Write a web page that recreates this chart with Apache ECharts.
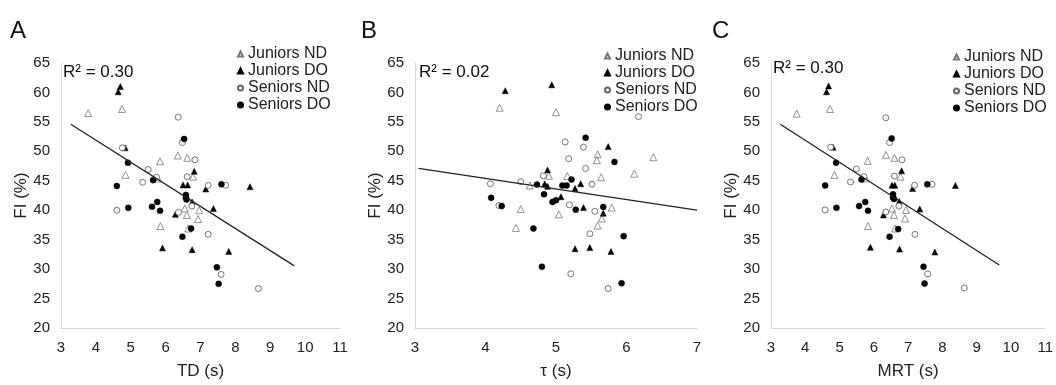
<!DOCTYPE html>
<html>
<head>
<meta charset="utf-8">
<script src="https://cdn.jsdelivr.net/npm/echarts@6/dist/echarts.min.js"></script>
<style>
  html, body { margin: 0; padding: 0; background: #fff; }
  #chart { width: 1056px; height: 385px; }
</style>
</head>
<body>
<div id="chart"></div>
<script>
// group names
var groups = ["Juniors ND", "Juniors DO", "Seniors ND", "Seniors DO"];

// panel A: TD (s) vs FI (%)
var juniorsNdA = [[3.78,56.5],[4.75,57.2],[4.85,46.0],[5.84,48.3],[6.35,49.3],[6.62,48.9],[6.79,45.7],[5.78,45.4],
  [6.55,40.3],[6.61,39.2],[6.96,40.0],[6.93,38.5],[5.85,37.3],[6.65,36.9]];
var juniorsDoA = [[4.70,61.0],[4.64,60.1],[4.84,50.6],[6.82,46.6],[6.50,44.3],[6.63,44.3],[7.15,43.6],[8.42,44.0],
  [6.76,41.4],[6.28,39.3],[7.37,40.3],[5.91,33.6],[6.76,33.3],[7.81,33.0]];
var seniorsNdA = [[6.36,55.8],[6.48,51.5],[4.76,50.6],[6.84,48.55],[5.50,46.9],[5.74,45.6],[6.62,45.7],[5.34,44.75],
  [7.22,44.2],[7.72,44.25],[4.60,40.0],[6.75,40.7],[6.37,39.65],[7.22,35.9],[7.59,29.1],[8.66,26.7]];
var seniorsDoA = [[6.53,52.1],[4.92,48.05],[5.64,45.1],[4.60,44.1],[7.60,44.4],[6.58,42.6],[6.58,42.1],[6.60,41.8],
  [5.76,41.4],[4.93,40.4],[5.61,40.6],[5.84,39.9],[6.73,36.9],[6.48,35.5],[7.47,30.3],[7.52,27.5]];
var fitA = { slope: -3.75, intercept: 66.9, from: 3.28, to: 9.68, r2: "0.30" };

// panel B: tau (s) vs FI (%)
var juniorsNdB = [[4.20,57.4],[5.00,56.65],[5.59,49.5],[5.58,48.5],[6.38,49.0],[6.11,46.2],[4.90,45.85],[5.16,45.8],
  [5.64,45.6],[4.63,44.2],[4.50,40.2],[4.43,37.0],[5.04,39.3],[5.79,40.45],[5.65,38.6],[5.59,37.4]];
var juniorsDoB = [[4.28,60.3],[4.94,61.3],[5.74,50.8],[4.88,46.85],[5.35,44.5],[4.84,44.5],[4.88,44.05],[5.27,43.7],
  [5.07,42.3],[5.39,40.45],[5.67,39.5],[5.27,33.45],[5.48,33.65],[5.78,33.0]];
var seniorsNdB = [[6.17,55.9],[5.13,51.6],[5.39,50.7],[5.18,48.75],[5.42,47.1],[4.82,45.85],[4.07,44.5],[4.50,44.85],
  [5.51,44.4],[4.19,40.8],[5.19,40.9],[5.55,39.8],[5.48,36.0],[5.21,29.2],[5.74,26.7]];
var seniorsDoB = [[5.42,52.3],[5.83,48.2],[5.22,45.2],[4.73,44.35],[5.09,44.2],[5.15,44.2],[4.08,42.1],[4.83,42.7],
  [4.95,41.4],[5.00,41.7],[4.23,40.7],[4.68,36.9],[5.28,40.1],[5.67,40.55],[5.96,35.6],[4.80,30.4],[5.93,27.6]];
var fitB = { slope: -1.8, intercept: 52.6, from: 3.05, to: 7.0, r2: "0.02" };

// panel C: MRT (s) vs FI (%)
var juniorsNdC = [[3.75,56.4],[4.72,57.2],[4.85,46.0],[5.82,48.4],[6.35,49.4],[6.60,48.9],[6.78,45.7],[5.76,45.4],
  [6.53,40.3],[6.59,39.2],[6.94,40.05],[6.91,38.6],[5.83,37.3],[6.62,36.9]];
var juniorsDoC = [[4.68,61.1],[4.62,60.1],[4.81,50.7],[6.81,46.7],[6.53,44.25],[6.61,44.25],[7.13,43.7],[8.38,44.2],
  [6.74,41.5],[6.28,39.2],[7.34,40.2],[5.90,33.7],[6.75,33.4],[7.78,32.9]];
var seniorsNdC = [[6.35,55.7],[6.46,51.5],[4.74,50.7],[6.82,48.55],[5.49,47.0],[5.71,45.7],[6.60,45.8],[5.32,44.8],
  [7.19,44.25],[7.70,44.4],[4.58,40.05],[6.73,40.7],[6.35,39.7],[7.20,35.9],[7.57,29.2],[8.64,26.8]];
var seniorsDoC = [[6.52,52.2],[4.90,48.05],[5.64,45.2],[4.58,44.2],[7.56,44.4],[6.56,42.7],[6.56,42.1],[6.59,41.9],
  [5.75,41.4],[4.91,40.4],[5.57,40.7],[5.83,39.9],[6.71,36.8],[6.46,35.5],[7.45,30.4],[7.48,27.55]];
var fitC = { slope: -3.74, intercept: 66.83, from: 3.27, to: 9.66, r2: "0.30" };

var yTicks = { min: 20, max: 65, step: 5 };

var chart = echarts.init(document.getElementById("chart"));
var font = "Liberation Sans, Arial, sans-serif";

var panels = [
  { letter: "A", xName: "TD (s)", xMin: 3, xMax: 11, data: [juniorsNdA, juniorsDoA, seniorsNdA, seniorsDoA], fit: fitA,
    grid: { left: 61, top: 63, width: 279, height: 269 }, letterPos: [10, 19], r2Pos: [63, 64], legendPos: [237, 46] },
  { letter: "B", xName: "τ (s)", xMin: 3, xMax: 7, data: [juniorsNdB, juniorsDoB, seniorsNdB, seniorsDoB], fit: fitB,
    grid: { left: 415, top: 63, width: 282, height: 269 }, letterPos: [361, 19], r2Pos: [419, 64], legendPos: [604, 48] },
  { letter: "C", xName: "MRT (s)", xMin: 3, xMax: 11, data: [juniorsNdC, juniorsDoC, seniorsNdC, seniorsDoC], fit: fitC,
    grid: { left: 771, top: 63, width: 276, height: 270 }, letterPos: [712, 19], r2Pos: [773, 60], legendPos: [953, 49] }
];

// marker look of each group
var markers = [
  { symbol: "triangle", size: 7, color: "#fff", border: "#777", bw: 0.8 },
  { symbol: "triangle", size: 6, color: "#000", border: "#000", bw: 0.5 },
  { symbol: "circle", size: 6, color: "#fff", border: "#666", bw: 0.9 },
  { symbol: "circle", size: 6, color: "#000", border: "#000", bw: 0.5 }
];

var grids = [], xAxes = [], yAxes = [], series = [], legends = [], texts = [];

panels.forEach(function(p, i) {
  grids.push(p.grid);
  xAxes.push({
    gridIndex: i, type: "value", min: p.xMin, max: p.xMax, interval: 1,
    name: p.xName, nameLocation: "middle", nameGap: 35,
    nameTextStyle: { fontSize: 17, color: "#222", fontFamily: font },
    axisLine: { lineStyle: { color: "#d9d9d9" } },
    axisTick: { show: false }, splitLine: { show: false },
    axisLabel: { fontSize: 15, color: "#222", fontFamily: font, margin: 12 }
  });
  yAxes.push({
    gridIndex: i, type: "value", min: yTicks.min, max: yTicks.max, interval: yTicks.step,
    name: "FI (%)", nameLocation: "middle", nameGap: 31,
    nameTextStyle: { fontSize: 17, color: "#222", fontFamily: font },
    axisLine: { show: true, lineStyle: { color: "#d9d9d9" } },
    axisTick: { show: false }, splitLine: { show: false },
    axisLabel: { fontSize: 15, color: "#222", fontFamily: font, margin: 11 }
  });
  // trend line from fitted slope/intercept
  series.push({
    type: "line", xAxisIndex: i, yAxisIndex: i, silent: true, symbol: "none",
    lineStyle: { color: "#222", width: 1.3 },
    data: [[p.fit.from, p.fit.slope * p.fit.from + p.fit.intercept],
           [p.fit.to, p.fit.slope * p.fit.to + p.fit.intercept]]
  });
  groups.forEach(function(g, k) {
    var m = markers[k];
    series.push({
      name: g, type: "scatter", xAxisIndex: i, yAxisIndex: i,
      symbol: m.symbol, symbolSize: m.size,
      itemStyle: { color: m.color, borderColor: m.border, borderWidth: m.bw, opacity: 1 },
      data: p.data[k]
    });
  });
  legends.push({
    orient: "vertical", left: p.legendPos[0], top: p.legendPos[1],
    itemWidth: 5, itemHeight: 5, itemGap: 1, padding: 0,
    textStyle: { fontSize: 16, color: "#222", fontFamily: font },
    data: groups
  });
  texts.push({
    type: "text", left: p.letterPos[0], top: p.letterPos[1],
    style: { text: p.letter, fill: "#111", font: "24px " + font }
  });
  texts.push({
    type: "text", left: p.r2Pos[0], top: p.r2Pos[1],
    style: { text: "R² = " + p.fit.r2, fill: "#111", font: "17px " + font }
  });
});

var option = {
  backgroundColor: "#fff",
  animation: false,
  grid: grids,
  xAxis: xAxes,
  yAxis: yAxes,
  legend: legends,
  graphic: texts,
  series: series
};

chart.setOption(option);
</script>
</body>
</html>
